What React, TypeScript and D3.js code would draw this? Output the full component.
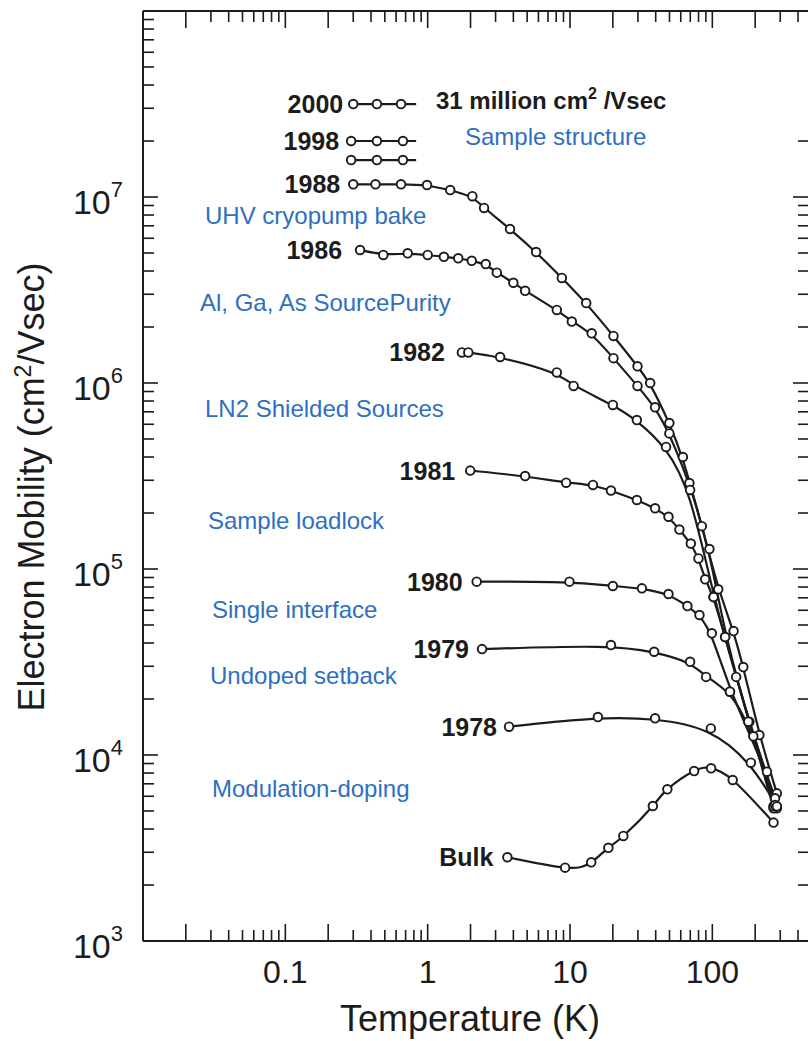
import React from 'react';
import * as d3 from 'd3';

// ---------- data (temperature K, mobility cm^2/Vs) ----------
const s2000T = [0.30, 0.44, 0.65];
const s2000Mu = [3.16e7, 3.16e7, 3.16e7];
const s1998aT = [0.29, 0.44, 0.67];
const s1998aMu = [2.0e7, 2.0e7, 2.0e7];
const s1998bT = [0.29, 0.44, 0.67];
const s1998bMu = [1.58e7, 1.58e7, 1.58e7];
const shortLineEndT = 0.83;

const s1988T = [0.30, 0.43, 0.65, 0.99, 1.44, 2.06, 2.49, 3.79, 5.78, 8.76, 13.0, 20.2, 29.8, 36.6, 49.9, 62.1, 84.4, 110, 141, 165, 214, 284];
const s1988Mu = [1.17e7, 1.17e7, 1.17e7, 1.16e7, 1.09e7, 1.01e7, 8.73e6, 6.73e6, 5.06e6, 3.67e6, 2.69e6, 1.79e6, 1.23e6, 1.0e6, 6.09e5, 4.0e5, 1.7e5, 7.78e4, 4.64e4, 2.97e4, 1.28e4, 6.22e3];

const s1986T = [0.335, 0.488, 0.724, 1.0, 1.30, 1.64, 2.04, 2.56, 3.06, 4.00, 4.84, 8.08, 10.3, 14.2, 20.2, 29.8, 39.6, 49.9, 69.0, 95.4, 123, 194, 276];
const s1986Mu = [5.19e6, 4.88e6, 4.98e6, 4.88e6, 4.77e6, 4.68e6, 4.54e6, 4.36e6, 3.92e6, 3.46e6, 3.13e6, 2.47e6, 2.14e6, 1.85e6, 1.36e6, 9.64e5, 7.4e5, 5.36e5, 2.9e5, 1.28e5, 4.31e4, 1.26e4, 5.85e3];

const s1982T = [1.74, 1.93, 3.23, 8.08, 10.6, 20.0, 29.5, 47.3, 69.8, 102, 147, 182, 284];
const s1982Mu = [1.46e6, 1.46e6, 1.38e6, 1.14e6, 9.64e5, 7.62e5, 6.32e5, 4.53e5, 2.66e5, 7.07e4, 2.63e4, 1.51e4, 5.17e3];

const s1981T = [1.99, 4.84, 9.39, 14.5, 19.4, 29.5, 39.6, 49.2, 58.7, 70.6, 79.9, 89.0, 102, 123, 269];
const s1981Mu = [3.38e5, 3.16e5, 2.91e5, 2.83e5, 2.64e5, 2.35e5, 2.12e5, 1.91e5, 1.63e5, 1.37e5, 1.14e5, 8.8e4, 7.07e4, 4.31e4, 5.17e3];

const s1980T = [2.21, 9.91, 20.0, 32.0, 49.2, 66.8, 81.2, 99.2, 133, 242, 269];
const s1980Mu = [8.55e4, 8.55e4, 8.10e4, 7.87e4, 7.34e4, 6.32e4, 5.66e4, 4.51e4, 2.19e4, 8.13e3, 5.3e3];

const s1979T = [2.41, 19.4, 39.0, 69.8, 90.4, 133, 179, 276];
const s1979Mu = [3.71e4, 3.90e4, 3.59e4, 3.17e4, 2.63e4, 2.19e4, 1.51e4, 5.39e3];

const s1978T = [3.73, 15.7, 39.6, 97.6, 186.5, 284];
const s1978Mu = [1.42e4, 1.60e4, 1.575e4, 1.39e4, 9.09e3, 5.3e3];

const bulkT = [3.63, 9.24, 14.1, 18.6, 23.7, 38.2, 48.3, 74.5, 98, 139, 269];
const bulkMu = [2.82e3, 2.48e3, 2.65e3, 3.17e3, 3.67e3, 5.32e3, 6.54e3, 8.20e3, 8.48e3, 7.34e3, 4.33e3];

const seriesLabels = ['2000', '1998', '', '1988', '1986', '1982', '1981', '1980', '1979', '1978', 'Bulk'];
const seriesTs = [s2000T, s1998aT, s1998bT, s1988T, s1986T, s1982T, s1981T, s1980T, s1979T, s1978T, bulkT];
const seriesMus = [s2000Mu, s1998aMu, s1998bMu, s1988Mu, s1986Mu, s1982Mu, s1981Mu, s1980Mu, s1979Mu, s1978Mu, bulkMu];
const shortSeries = [true, true, true, false, false, false, false, false, false, false, false];
// gap (px) between a series label and its first marker
const labelGaps = [10, 12, 0, 13, 18, 17, 15, 14, 13, 12, 14];

const xTickLabels = ['0.1', '1', '10', '100'];
const xTickValues = [0.1, 1, 10, 100];
const yTickExponents = [3, 4, 5, 6, 7];

const annotations = [
  'Sample structure',
  'UHV cryopump bake',
  'Al, Ga, As SourcePurity',
  'LN2 Shielded Sources',
  'Sample loadlock',
  'Single interface',
  'Undoped setback',
  'Modulation-doping',
];
// pixel layout for annotations (x start, baseline)
const annotationLayout = [
  [465, 145], [205, 224], [200, 311], [205, 417], [208, 529], [212, 618], [210, 684], [212, 797],
];

// ---------- layout ----------
const W = 808;
const H = 1041;
const LEFT = 143;
const RIGHT = 808;
const TOP = 11;
const BOTTOM = 941;
const FONT = '"Liberation Sans", Arial, Helvetica, sans-serif';
const BLUE = '#2e6fc0';
const INK = '#1c1c1c';

const x = d3.scaleLog().domain([0.01, 470]).range([LEFT, RIGHT]);
const y = d3.scaleLog().domain([1e3, 1e8]).range([BOTTOM, TOP]);

function xTicks() {
  const out: { v: number; major: boolean }[] = [];
  for (let k = -2; k <= 2; k++) {
    for (let m = 1; m <= 9; m++) {
      const v = m * Math.pow(10, k);
      if (v > 0.0101 && v <= 470) out.push({ v, major: m === 1 || m === 2 });
    }
  }
  return out;
}
function yTicks(maxV: number) {
  const out: { v: number; major: boolean }[] = [];
  for (let k = 3; k <= 7; k++) {
    for (let m = 1; m <= 9; m++) {
      const v = m * Math.pow(10, k);
      if (v > 1001 && v <= maxV) out.push({ v, major: m === 1 });
    }
  }
  return out;
}

export default function App() {
  const line = d3
    .line<[number, number]>()
    .x((d) => x(d[0]))
    .y((d) => y(d[1]))
    .curve(d3.curveBasis);
  const lineNatural = d3
    .line<[number, number]>()
    .x((d) => x(d[0]))
    .y((d) => y(d[1]))
    .curve(d3.curveNatural);

  const xt = xTicks();
  const ytL = yTicks(1e8 * 0.95);
  const ytR = yTicks(2.01e7);

  return (
    <svg
      width={W}
      height={H}
      viewBox={`0 0 ${W} ${H}`}
      style={{ position: 'absolute', left: 0, top: 0, background: '#fff' }}
      fontFamily={FONT}
    >
      <rect x={0} y={0} width={W} height={H} fill="#fff" />
      {/* frame */}
      <line x1={LEFT} y1={TOP} x2={RIGHT} y2={TOP} stroke={INK} strokeWidth={2} />
      <line x1={LEFT} y1={BOTTOM} x2={RIGHT} y2={BOTTOM} stroke={INK} strokeWidth={2} />
      <line x1={LEFT} y1={TOP} x2={LEFT} y2={BOTTOM} stroke={INK} strokeWidth={2} />
      {/* x ticks */}
      {xt.map((t, i) => (
        <g key={'xt' + i}>
          <line x1={x(t.v)} x2={x(t.v)} y1={BOTTOM} y2={BOTTOM - (t.major ? 17 : 11)} stroke={INK} strokeWidth={1.6} />
          <line x1={x(t.v)} x2={x(t.v)} y1={TOP} y2={TOP + (t.major ? 17 : 11)} stroke={INK} strokeWidth={1.6} />
        </g>
      ))}
      {/* y ticks */}
      {ytL.map((t, i) => (
        <line key={'yl' + i} x1={LEFT} x2={LEFT + (t.major ? 15 : 11)} y1={y(t.v)} y2={y(t.v)} stroke={INK} strokeWidth={1.6} />
      ))}
      {ytR.map((t, i) => (
        <line key={'yr' + i} x1={RIGHT} x2={RIGHT - (t.major ? 15 : 10)} y1={y(t.v)} y2={y(t.v)} stroke={INK} strokeWidth={1.6} />
      ))}
      {/* x tick labels */}
      {xTickValues.map((v, i) => (
        <text key={'xl' + i} x={x(v)} y={983} textAnchor="middle" fontSize={32} fill={INK}>
          {xTickLabels[i]}
        </text>
      ))}
      <text x={470} y={1031} textAnchor="middle" fontSize={36} fill={INK}>
        Temperature (K)
      </text>
      {/* y tick labels */}
      {yTickExponents.map((e) => (
        <text key={'yl' + e} x={123} y={y(Math.pow(10, e)) + 17} textAnchor="end" fontSize={34} fill={INK}>
          <tspan>10</tspan>
          <tspan dy={-17} fontSize={22}>{e}</tspan>
        </text>
      ))}
      <text transform={`translate(44, 487) rotate(-90)`} textAnchor="middle" fontSize={36} fill={INK}>
        <tspan>Electron Mobility (cm</tspan>
        <tspan dy={-13} fontSize={23}>2</tspan>
        <tspan dy={13}>/Vsec)</tspan>
      </text>

      {/* curves */}
      {seriesTs.map((ts, si) => {
        const pts: [number, number][] = ts.map((t, j) => [t, seriesMus[si][j]]);
        if (shortSeries[si]) pts.push([shortLineEndT, seriesMus[si][0]]);
        const gen = seriesLabels[si] === 'Bulk' ? lineNatural : line;
        return <path key={'ln' + si} d={gen(pts) || ''} fill="none" stroke={INK} strokeWidth={2.2} />;
      })}
      {seriesTs.map((ts, si) =>
        ts.map((t, j) => (
          <circle key={`m${si}-${j}`} cx={x(t)} cy={y(seriesMus[si][j])} r={4.3} fill="#fff" stroke={INK} strokeWidth={1.9} />
        ))
      )}
      {/* series labels */}
      {seriesLabels.map((lab, si) =>
        lab ? (
          <text
            key={'sl' + si}
            x={x(seriesTs[si][0]) - labelGaps[si]}
            y={y(seriesMus[si][0]) + 9}
            textAnchor="end"
            fontSize={25}
            fontWeight="bold"
            fill={INK}
          >
            {lab}
          </text>
        ) : null
      )}
      <text x={436} y={109} fontSize={24} fontWeight="bold" fill={INK}>
        <tspan>31 million cm</tspan>
        <tspan dy={-10} fontSize={16}>2</tspan>
        <tspan dy={10}> /Vsec</tspan>
      </text>
      {/* annotations */}
      {annotations.map((a, i) => (
        <text key={'an' + i} x={annotationLayout[i][0]} y={annotationLayout[i][1]} fontSize={24} fill={BLUE}>
          {a}
        </text>
      ))}
    </svg>
  );
}
